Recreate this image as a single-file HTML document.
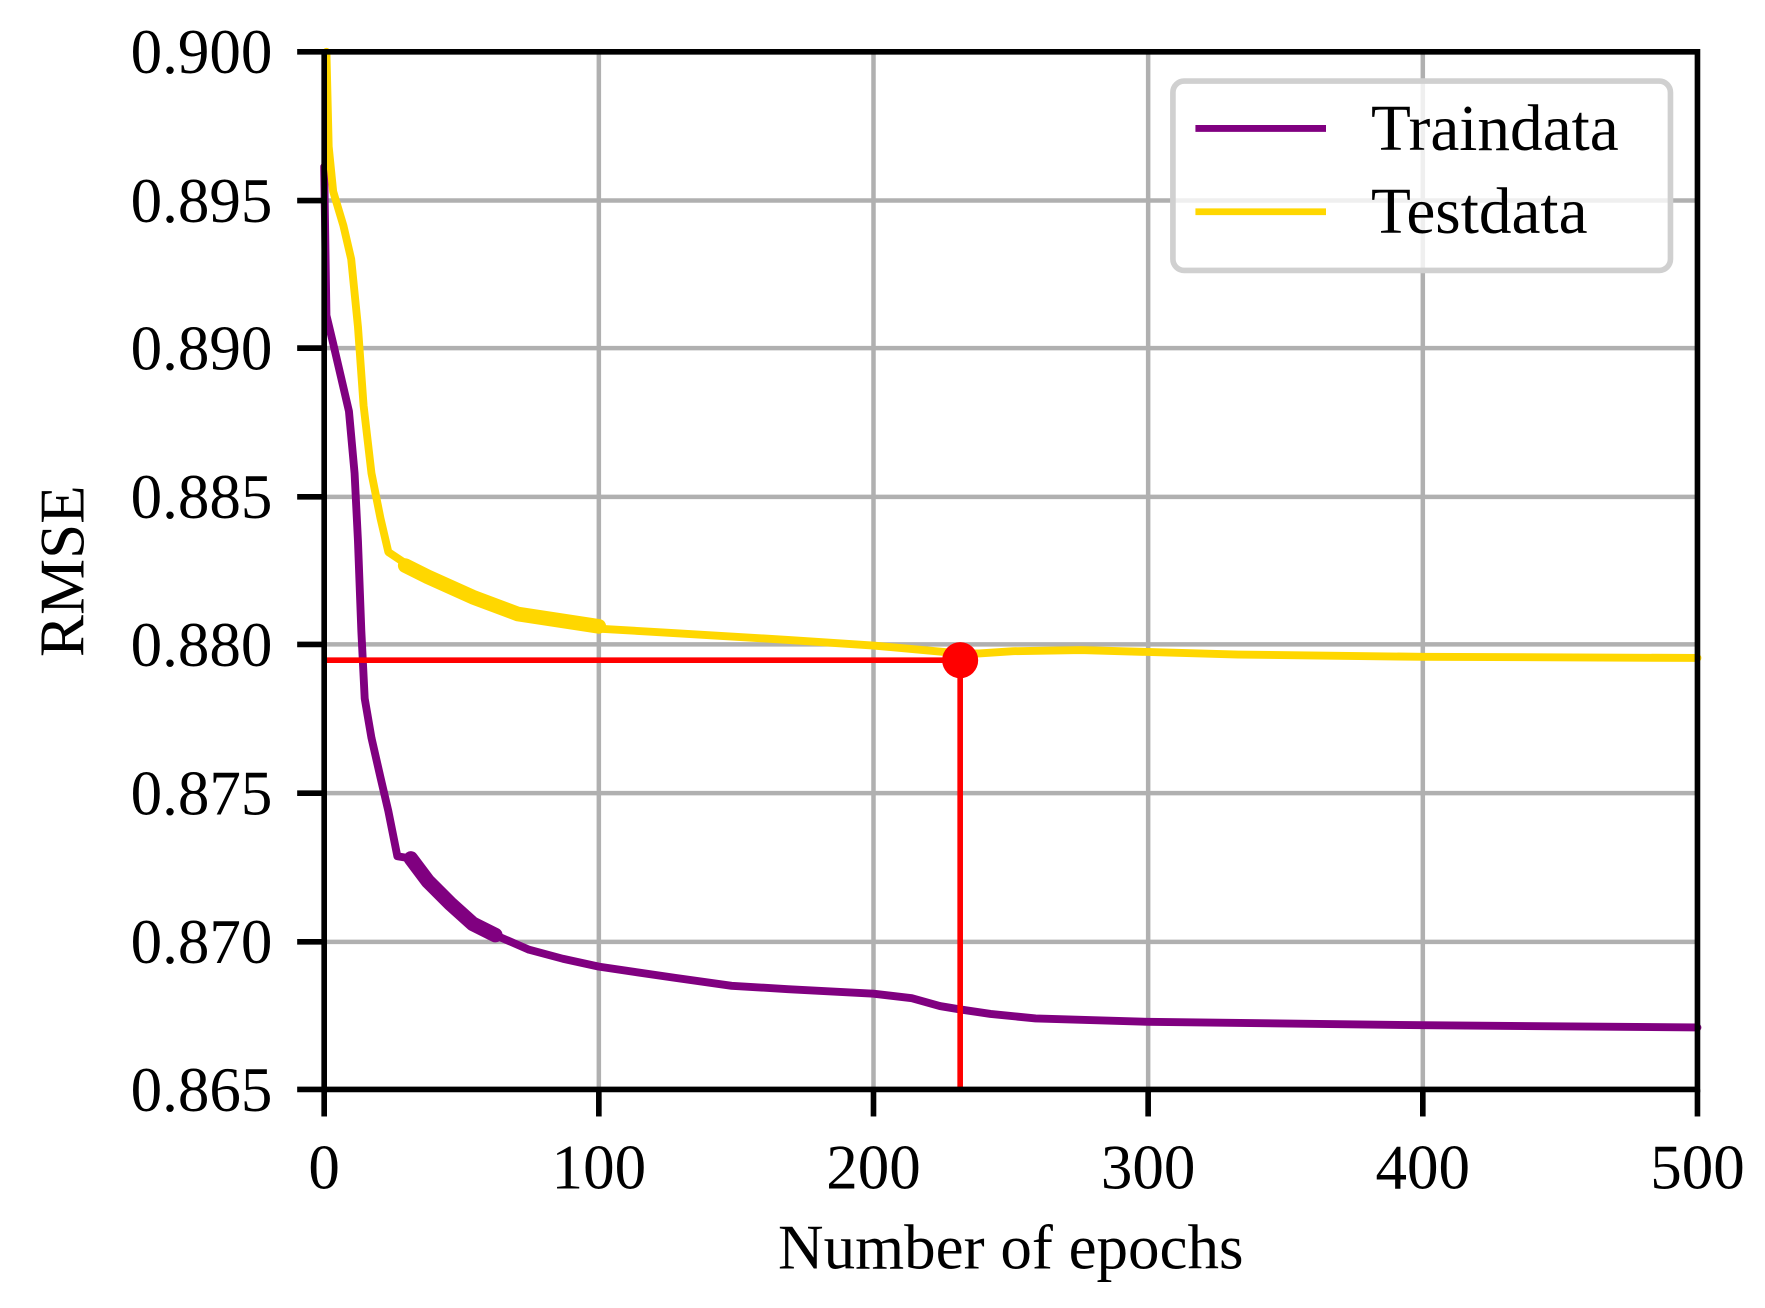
<!DOCTYPE html>
<html><head><meta charset="utf-8"><style>
html,body{margin:0;padding:0;background:#fff}
svg{display:block}
text{font-family:"Liberation Serif","DejaVu Serif",serif;fill:#000}
</style></head><body>
<svg width="1765" height="1308" viewBox="0 0 1568 1161" preserveAspectRatio="none" xmlns="http://www.w3.org/2000/svg">
<rect width="1568" height="1161" fill="#fff"/>
<g stroke="#b0b0b0" stroke-width="4">
<line x1="288" y1="178" x2="1508" y2="178"/><line x1="288" y1="309" x2="1508" y2="309"/>
<line x1="288" y1="441" x2="1508" y2="441"/><line x1="288" y1="572" x2="1508" y2="572"/>
<line x1="288" y1="704" x2="1508" y2="704"/><line x1="288" y1="836" x2="1508" y2="836"/>
<line x1="532" y1="46" x2="532" y2="967"/><line x1="776" y1="46" x2="776" y2="967"/>
<line x1="1020" y1="46" x2="1020" y2="967"/><line x1="1264" y1="46" x2="1264" y2="967"/>
</g>
<g fill="none" stroke-linejoin="round" stroke-linecap="round">
<polyline stroke="#800080" stroke-width="7" points="288,148 290,280 296,305 303,335 310,365 315,420 318,480 321,560 324,620 330,655 338,690 345,720 350,745 353,760 365,762 380,780 400,800 420,818 440,830 470,843 500,851 532,858 600,868 650,875 700,878 776,882 810,886 835,893 853,896 880,900 920,904 1020,907 1264,910 1508,912"/>
<polyline stroke="#800080" stroke-width="13" points="365,762 380,782 400,802 420,820 440,830"/>
<polyline stroke="#FFD700" stroke-width="7" points="290,46 292,130 296,170 305,200 312,230 318,290 323,360 330,420 338,460 345,490 360,500 380,510 420,530 460,545 532,558 600,562 700,568 776,573 853,580 870,580 900,578 960,577 1100,581 1264,583 1508,584"/>
<polyline stroke="#FFD700" stroke-width="13" points="360,502 380,512 420,530 460,545 532,556"/>
</g>
<g stroke="#ff0000" stroke-width="5">
<line x1="288" y1="586" x2="853" y2="586"/><line x1="853" y1="586" x2="853" y2="967"/>
</g>
<circle cx="853" cy="586" r="16" fill="#ff0000"/>
<rect x="288" y="46" width="1220" height="921" fill="none" stroke="#000" stroke-width="5"/>
<g stroke="#000" stroke-width="5">
<line x1="264" y1="46" x2="288" y2="46"/><line x1="264" y1="178" x2="288" y2="178"/><line x1="264" y1="309" x2="288" y2="309"/>
<line x1="264" y1="441" x2="288" y2="441"/><line x1="264" y1="572" x2="288" y2="572"/><line x1="264" y1="704" x2="288" y2="704"/>
<line x1="264" y1="836" x2="288" y2="836"/><line x1="264" y1="967" x2="288" y2="967"/>
<line x1="288" y1="967" x2="288" y2="991"/><line x1="532" y1="967" x2="532" y2="991"/><line x1="776" y1="967" x2="776" y2="991"/>
<line x1="1020" y1="967" x2="1020" y2="991"/><line x1="1264" y1="967" x2="1264" y2="991"/><line x1="1508" y1="967" x2="1508" y2="991"/>
</g>
<g font-size="56" text-anchor="end">
<text x="242" y="65">0.900</text><text x="242" y="197">0.895</text><text x="242" y="328">0.890</text>
<text x="242" y="460">0.885</text><text x="242" y="591">0.880</text><text x="242" y="723">0.875</text>
<text x="242" y="855">0.870</text><text x="242" y="986">0.865</text>
</g>
<g font-size="56" text-anchor="middle">
<text x="288" y="1055">0</text><text x="532" y="1055">100</text><text x="776" y="1055">200</text>
<text x="1020" y="1055">300</text><text x="1264" y="1055">400</text><text x="1508" y="1055">500</text>
<text x="898" y="1126">Number of epochs</text>
<text transform="translate(74,507) rotate(-90)">RMSE</text>
</g>
<rect x="1042" y="72" width="442" height="168" rx="10" fill="#fff" fill-opacity="0.8" stroke="#d0d0d0" stroke-width="5"/>
<line x1="1062" y1="114" x2="1178" y2="114" stroke="#800080" stroke-width="6"/>
<line x1="1062" y1="188" x2="1178" y2="188" stroke="#FFD700" stroke-width="6"/>
<g font-size="58"><text x="1218" y="133">Traindata</text><text x="1218" y="207">Testdata</text></g>
</svg>
</body></html>
